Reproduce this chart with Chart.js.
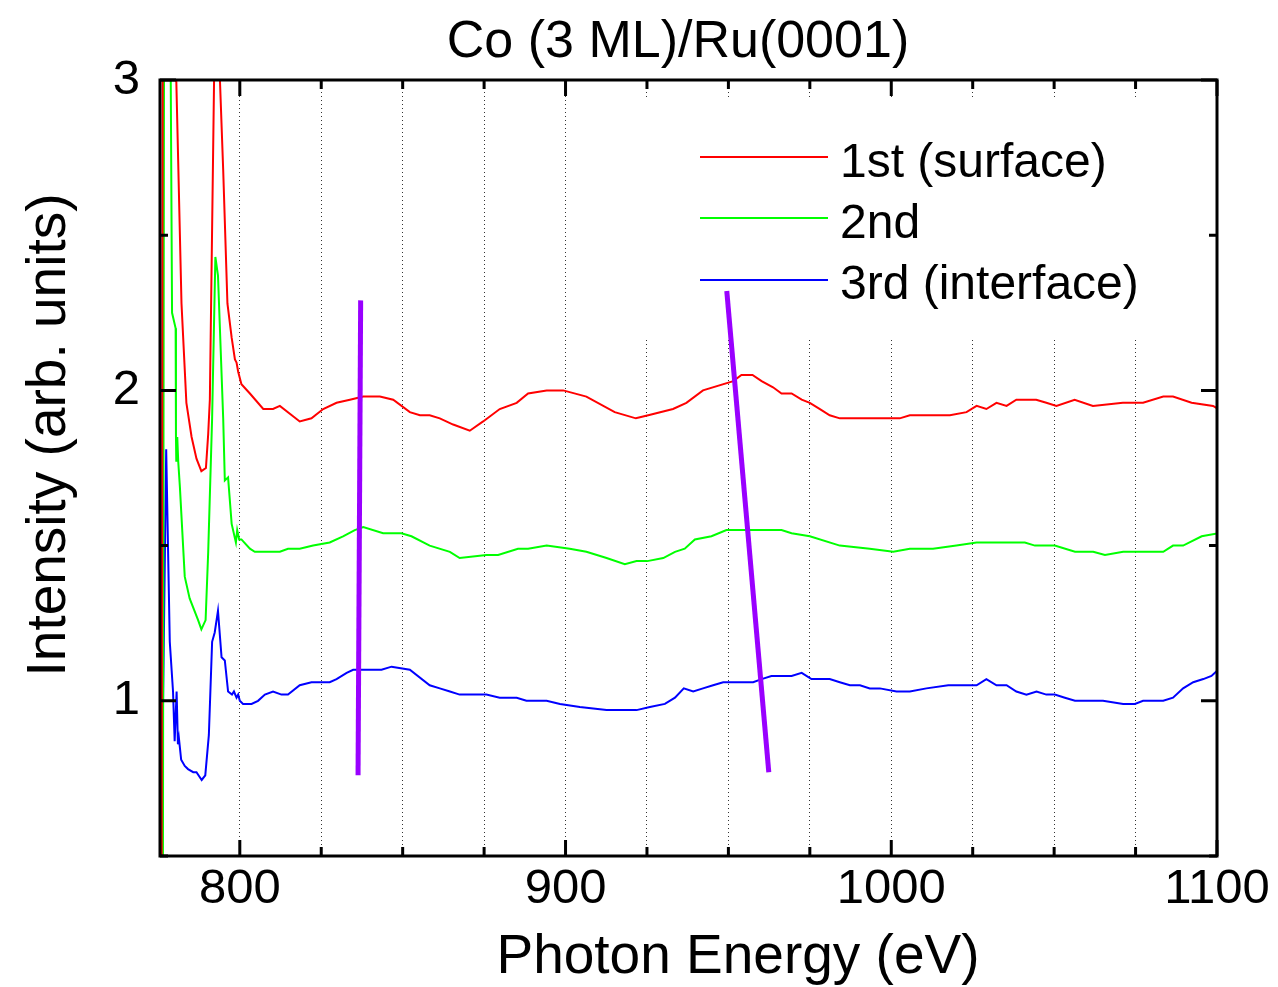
<!DOCTYPE html>
<html>
<head>
<meta charset="utf-8">
<title>Co (3 ML)/Ru(0001)</title>
<script src="https://cdn.jsdelivr.net/npm/chart.js@4.4.1/dist/chart.umd.min.js"></script>
<style>
  html, body { margin:0; padding:0; background:#fff; }
  #wrap { width:1278px; height:987px; }
</style>
</head>
<body>
<div id="wrap"><canvas id="chart" width="1278" height="987"></canvas></div>
<script>
// ── spectra (photon energy in eV, intensity in arb. units) ──
const RED_E = [
  776.0, 776.4, 778.5, 780.5, 782.1, 783.6, 785.2, 786.7, 788.2, 789.6,
  790.3, 790.8, 792.1, 793.0, 793.9, 794.9, 796.2, 797.5, 798.5, 799.0,
  799.5, 800.5, 803.1, 807.2, 810.2, 812.3, 818.4, 822.0, 825.6, 829.7,
  833.8, 837.9, 843.0, 847.1, 852.2, 855.3, 858.3, 861.4, 865.5, 870.6,
  874.7, 879.8, 885.0, 888.5, 894.2, 899.3, 906.4, 915.1, 921.6, 925.4,
  933.0, 937.1, 942.2, 951.5, 954.0, 957.4, 960.2, 963.7, 966.3, 969.4,
  972.5, 975.0, 978.1, 981.1, 984.2, 990.4, 995.5, 1002.6, 1005.7, 1018.0,
  1023.1, 1026.2, 1029.2, 1032.3, 1035.4, 1038.4, 1044.5, 1047.6, 1050.7, 1056.3,
  1061.9, 1071.1, 1077.3, 1083.5, 1086.5, 1092.2, 1098.8, 1100.4
];
const RED_I = [
  0.45, 3.6, 4.2, 3.0, 2.28, 1.96, 1.85, 1.78, 1.74, 1.75,
  1.86, 1.97, 3.0, 3.4, 3.0, 2.71, 2.28, 2.17, 2.10, 2.09,
  2.06, 2.02, 1.99, 1.94, 1.94, 1.95, 1.90, 1.91, 1.94, 1.96,
  1.97, 1.98, 1.98, 1.97, 1.93, 1.92, 1.92, 1.91, 1.89, 1.87,
  1.90, 1.94, 1.96, 1.99, 2.00, 2.00, 1.98, 1.93, 1.91, 1.92,
  1.94, 1.96, 2.00, 2.03, 2.05, 2.05, 2.03, 2.01, 1.99, 1.99,
  1.97, 1.96, 1.94, 1.92, 1.91, 1.91, 1.91, 1.91, 1.92, 1.92,
  1.93, 1.95, 1.94, 1.96, 1.95, 1.97, 1.97, 1.96, 1.95, 1.97,
  1.95, 1.96, 1.96, 1.98, 1.98, 1.96, 1.95, 1.94
];

const GREEN_E = [
  776.4, 776.8, 778.8, 779.2, 780.3, 780.4, 780.5, 780.8, 781.1, 781.6,
  783.1, 784.6, 787.2, 788.2, 789.5, 790.3, 791.5, 792.5, 793.3, 794.9,
  795.4, 796.4, 797.5, 798.8, 799.2, 799.8, 800.5, 803.1, 804.6, 806.1,
  812.3, 814.8, 818.4, 822.5, 827.6, 831.7, 835.3, 837.9, 844.0, 849.6,
  852.7, 858.3, 864.5, 867.5, 875.7, 879.3, 885.4, 888.5, 894.2, 901.3,
  906.4, 912.6, 918.2, 921.8, 925.1, 930.0, 933.6, 936.6, 939.7, 944.8,
  949.4, 955.6, 966.3, 969.4, 975.0, 984.2, 993.4, 1000.6, 1005.7, 1012.8,
  1020.0, 1026.2, 1035.4, 1041.0, 1044.1, 1050.2, 1056.4, 1062.0, 1065.6, 1071.2,
  1075.3, 1083.5, 1086.5, 1089.6, 1095.3, 1100.4
];
const GREEN_I = [
  0.45, 3.6, 3.0, 2.25, 2.20, 1.85, 1.77, 1.85, 1.77, 1.69,
  1.40, 1.33, 1.26, 1.23, 1.26, 1.48, 1.91, 2.43, 2.37, 1.91,
  1.71, 1.72, 1.57, 1.51, 1.55, 1.52, 1.52, 1.49, 1.48, 1.48,
  1.48, 1.49, 1.49, 1.50, 1.51, 1.53, 1.55, 1.56, 1.54, 1.54,
  1.53, 1.50, 1.48, 1.46, 1.47, 1.47, 1.49, 1.49, 1.50, 1.49,
  1.48, 1.46, 1.44, 1.45, 1.45, 1.46, 1.48, 1.49, 1.52, 1.53,
  1.55, 1.55, 1.55, 1.54, 1.53, 1.50, 1.49, 1.48, 1.49, 1.49,
  1.50, 1.51, 1.51, 1.51, 1.50, 1.50, 1.48, 1.48, 1.47, 1.48,
  1.48, 1.48, 1.50, 1.50, 1.53, 1.54
];

const BLUE_E = [
  775.8, 777.4, 778.5, 779.5, 780.0, 780.6, 781.0, 781.3, 782.0, 783.1,
  784.1, 785.7, 786.7, 788.3, 789.4, 790.5, 791.5, 792.3, 793.3, 794.4,
  795.4, 796.4, 797.6, 798.2, 799.0, 799.5, 800.0, 801.0, 803.6, 805.6,
  807.7, 810.2, 812.8, 814.8, 818.4, 822.0, 827.6, 829.7, 832.8, 834.8,
  839.9, 843.5, 846.6, 852.2, 858.3, 861.4, 864.5, 867.5, 875.7, 879.8,
  885.0, 888.0, 894.2, 898.3, 904.4, 912.6, 917.7, 921.8, 925.9, 930.5,
  933.6, 936.3, 939.2, 942.2, 945.3, 948.4, 953.5, 957.6, 960.2, 963.2,
  966.3, 969.4, 972.5, 975.5, 981.1, 984.2, 987.3, 990.4, 993.4, 996.5,
  1001.6, 1005.7, 1010.8, 1017.5, 1023.6, 1026.2, 1029.2, 1032.3, 1035.4, 1038.4,
  1041.5, 1044.6, 1047.6, 1050.2, 1053.3, 1056.4, 1059.4, 1065.0, 1071.2, 1074.8,
  1077.3, 1083.5, 1086.5, 1089.6, 1092.7, 1095.8, 1098.3, 1100.4
];
const BLUE_I = [
  0.45, 1.81, 1.19, 1.03, 0.87, 1.03, 0.86, 0.88, 0.81, 0.79,
  0.78, 0.77, 0.77, 0.745, 0.76, 0.89, 1.19, 1.22, 1.29, 1.14,
  1.13, 1.03, 1.02, 1.03, 1.01, 1.02, 1.00, 0.99, 0.99, 1.00,
  1.02, 1.03, 1.02, 1.02, 1.05, 1.06, 1.06, 1.07, 1.09, 1.10,
  1.10, 1.10, 1.11, 1.10, 1.05, 1.04, 1.03, 1.02, 1.02, 1.01,
  1.01, 1.00, 1.00, 0.99, 0.98, 0.97, 0.97, 0.97, 0.98, 0.99,
  1.01, 1.04, 1.03, 1.04, 1.05, 1.06, 1.06, 1.06, 1.07, 1.08,
  1.08, 1.08, 1.09, 1.07, 1.07, 1.06, 1.05, 1.05, 1.04, 1.04,
  1.03, 1.03, 1.04, 1.05, 1.05, 1.05, 1.07, 1.05, 1.05, 1.03,
  1.02, 1.03, 1.02, 1.02, 1.01, 1.00, 1.00, 1.00, 0.99, 0.99,
  1.00, 1.00, 1.01, 1.04, 1.06, 1.07, 1.08, 1.10
];

// purple guide lines
const MARK1_E = [837.1, 836.3];
const MARK1_I = [2.29, 0.76];
const MARK2_E = [949.5, 962.4];
const MARK2_I = [2.32, 0.77];

const X_TICKS = [800, 825, 850, 875, 900, 925, 950, 975, 1000, 1025, 1050, 1075, 1100];
const Y_TICKS = [0.5, 1, 1.5, 2, 2.5, 3];
const SERIES_NAMES = ['1st (surface)', '2nd', '3rd (interface)'];
const SERIES_COLORS = ['#ff0000', '#00ff00', '#0000ff'];

const FONT = '"Liberation Sans", Arial, Helvetica, sans-serif';
const pts = (xs, ys) => xs.map((v, i) => ({ x: v, y: ys[i] }));

// frame, inward ticks, legend and axis texts
const decor = {
  id: 'decor',
  beforeDatasetsDraw(chart) {
    // the legend box is opaque, it hides the dotted grid behind it
    const ctx = chart.ctx;
    ctx.save();
    ctx.fillStyle = '#fff';
    ctx.fillRect(600, 100, 615, 238);
    ctx.restore();
  },
  afterDatasetsDraw(chart) {
    const { ctx, chartArea: a, scales: { x, y } } = chart;
    ctx.save();
    ctx.strokeStyle = '#000';
    ctx.lineWidth = 3;
    ctx.beginPath();
    X_TICKS.forEach(v => {
      const px = x.getPixelForValue(v);
      const len = v % 100 === 0 ? 16 : 9;
      ctx.moveTo(px, a.bottom); ctx.lineTo(px, a.bottom - len);
      ctx.moveTo(px, a.top); ctx.lineTo(px, a.top + len);
    });
    Y_TICKS.forEach(v => {
      const py = y.getPixelForValue(v);
      const len = v % 1 === 0 ? 16 : 8;
      ctx.moveTo(a.left, py); ctx.lineTo(a.left + len, py);
      ctx.moveTo(a.right, py); ctx.lineTo(a.right - len, py);
    });
    ctx.stroke();
    ctx.strokeRect(a.left, a.top, a.right - a.left, a.bottom - a.top);
    ctx.restore();
  },
  afterDraw(chart) {
    const ctx = chart.ctx;
    ctx.save();
    ctx.fillStyle = '#000';
    ctx.textBaseline = 'alphabetic';

    ctx.font = '52px ' + FONT;
    ctx.textAlign = 'center';
    ctx.fillText('Co (3 ML)/Ru(0001)', 678, 57);

    ctx.font = '55px ' + FONT;
    ctx.fillText('Photon Energy (eV)', 738, 973);

    ctx.save();
    ctx.translate(65, 435);
    ctx.rotate(-Math.PI / 2);
    ctx.fillText('Intensity (arb. units)', 0, 0);
    ctx.restore();

    // legend
    ctx.font = '48px ' + FONT;
    ctx.textAlign = 'left';
    const lineY = [157, 218, 280];
    const textY = [177, 238, 299];
    SERIES_NAMES.forEach((name, i) => {
      ctx.strokeStyle = SERIES_COLORS[i];
      ctx.lineWidth = 2;
      ctx.beginPath();
      ctx.moveTo(700, lineY[i]);
      ctx.lineTo(828, lineY[i]);
      ctx.stroke();
      ctx.fillText(name, 840, textY[i]);
    });
    ctx.restore();
  }
};

const lineStyle = { borderWidth: 2, pointRadius: 0, tension: 0, fill: false, order: 1 };
const markStyle = { borderColor: '#9900ff', borderWidth: 5, pointRadius: 0, tension: 0, fill: false, order: 0 };

new Chart(document.getElementById('chart').getContext('2d'), {
  type: 'line',
  data: {
    datasets: [
      { ...lineStyle, label: SERIES_NAMES[0], data: pts(RED_E, RED_I), borderColor: SERIES_COLORS[0] },
      { ...lineStyle, label: SERIES_NAMES[1], data: pts(GREEN_E, GREEN_I), borderColor: SERIES_COLORS[1] },
      { ...lineStyle, label: SERIES_NAMES[2], data: pts(BLUE_E, BLUE_I), borderColor: SERIES_COLORS[2] },
      { ...markStyle, label: 'mark1', data: pts(MARK1_E, MARK1_I) },
      { ...markStyle, label: 'mark2', data: pts(MARK2_E, MARK2_I) }
    ]
  },
  options: {
    responsive: false,
    animation: false,
    devicePixelRatio: 1,
    layout: { padding: { top: 80, right: 61, left: 0, bottom: 0 } },
    plugins: { legend: { display: false }, title: { display: false }, tooltip: { enabled: false } },
    scales: {
      x: {
        type: 'linear',
        min: 775.5,
        max: 1100,
        afterBuildTicks: s => { s.ticks = X_TICKS.map(v => ({ value: v })); },
        afterFit: s => { s.height = 131; },
        grid: { color: '#333', lineWidth: 1, drawTicks: false },
        border: { display: false, dash: [1, 3] },
        ticks: {
          padding: 4,
          maxRotation: 0,
          autoSkip: false,
          color: '#000',
          font: { family: FONT, size: 49 },
          callback: v => (v % 100 === 0 ? String(v) : '')
        }
      },
      y: {
        type: 'linear',
        min: 0.5,
        max: 3,
        afterBuildTicks: s => { s.ticks = Y_TICKS.map(v => ({ value: v })); },
        afterFit: s => { s.width = 160; },
        grid: { display: false, drawTicks: false },
        border: { display: false },
        ticks: {
          padding: 20,
          color: '#000',
          font: { family: FONT, size: 49 },
          callback: v => (v % 1 === 0 ? String(v) : '')
        }
      }
    }
  },
  plugins: [decor]
});
</script>
</body>
</html>
